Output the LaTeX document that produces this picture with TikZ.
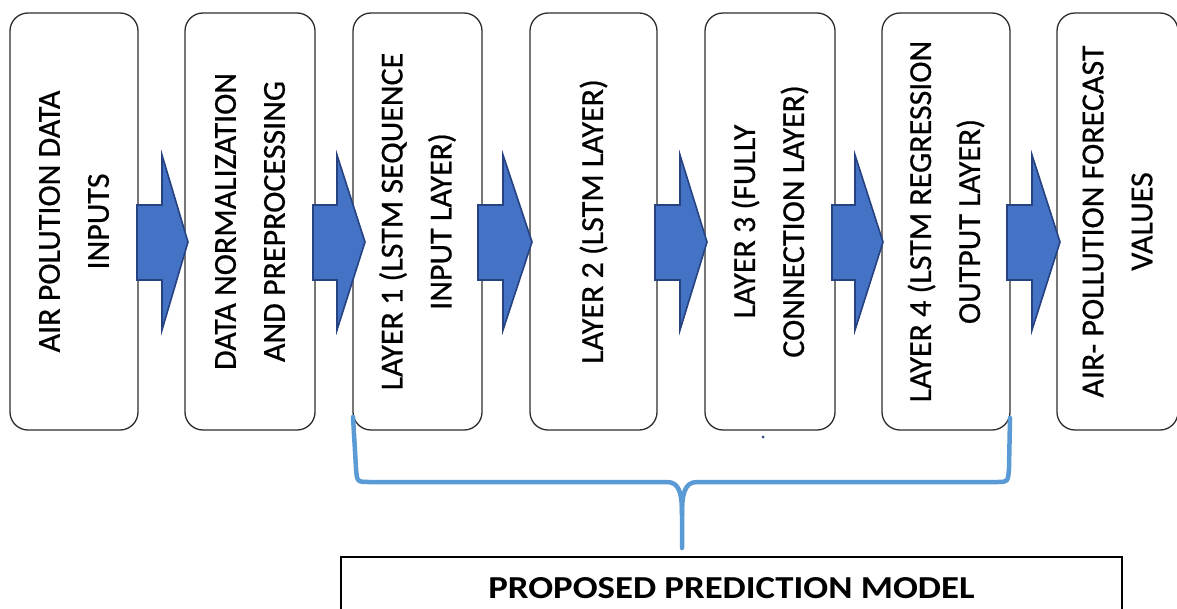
\documentclass[tikz,border=0pt]{standalone}
\usepackage{fontspec}
\setmainfont{Carlito}
\newfontfamily\stagefont{Carlito}[FakeBold=0.6]
\definecolor{arrowblue}{RGB}{68,114,196}
\definecolor{arrowedge}{RGB}{38,66,128}
\definecolor{braceblue}{RGB}{91,155,213}
\definecolor{boxline}{RGB}{45,45,45}
\begin{document}
\begin{tikzpicture}[x=1pt,y=-1pt,
  stage/.style={draw=boxline, line width=1.3pt, rounded corners=18pt, rotate=90,
    minimum width=417pt, inner sep=0pt, align=center, fill=white,
    font=\stagefont\fontsize{32}{49}\selectfont},
  flowarrow/.style={fill=arrowblue, draw=arrowedge, line width=1.6pt, line join=miter},
  brace/.style={draw=braceblue, line width=4.5pt, line cap=round, line join=round},
  modelbox/.style={draw=black, line width=1.4pt, minimum width=781pt, minimum height=62pt,
    inner sep=0pt, font=\bfseries\fontsize{32}{36}\selectfont, text height=21pt, text depth=0pt}]
\useasboundingbox (0,0) rectangle (1177,608);
\clip (0,0) rectangle (1177,608);
\fill[white] (0,0) rectangle (1177,608);

\node[stage, minimum height=128pt] (b1) at (74,221.5) {AIR POLUTION DATA\\INPUTS};
\node[stage, minimum height=130pt] (b2) at (250,221.5) {DATA NORMALIZATION\\AND PREPROCESSING};
\node[stage, minimum height=129pt] (b3) at (417.5,221.5) {LAYER 1 (LSTM SEQUENCE\\INPUT LAYER)};
\node[stage, minimum height=127pt] (b4) at (593.5,221.5) {LAYER 2 (LSTM LAYER)};
\node[stage, minimum height=130pt] (b5) at (770,221.5) {LAYER 3 (FULLY\\CONNECTION LAYER)};
\node[stage, minimum height=128pt] (b6) at (946,221.5) {LAYER 4 (LSTM REGRESSION\\OUTPUT LAYER)};
\node[stage, minimum height=121pt] (b7) at (1117.5,221.5) {AIR- POLLUTION FORECAST\\VALUES};

\foreach \a/\b/\c in {137/162/188, 313/337/365, 478/503/532, 655/680/707, 832/855/883, 1007/1032/1060}
  \draw[flowarrow] (\a,205) -- (\b,205) -- (\b,155) -- (\c,242) -- (\b,330) -- (\b,280) -- (\a,280) -- cycle;

\node[modelbox] (model) at (731.5,588) {\scalebox{1.15}[1]{PROPOSED PREDICTION MODEL}};

\draw[brace] (353,417) -- (356,468) .. controls (357,482) .. (370,482) -- (667,482)
  .. controls (680,482) and (682,495) .. (682,515) -- (682,548);
\draw[brace] (682,515) .. controls (682,495) and (684,482) .. (697,482) -- (997,482)
  .. controls (1008,482) .. (1009,468) -- (1010,418);

\fill[arrowedge] (763,437) circle (1.5);
\end{tikzpicture}
\end{document}
